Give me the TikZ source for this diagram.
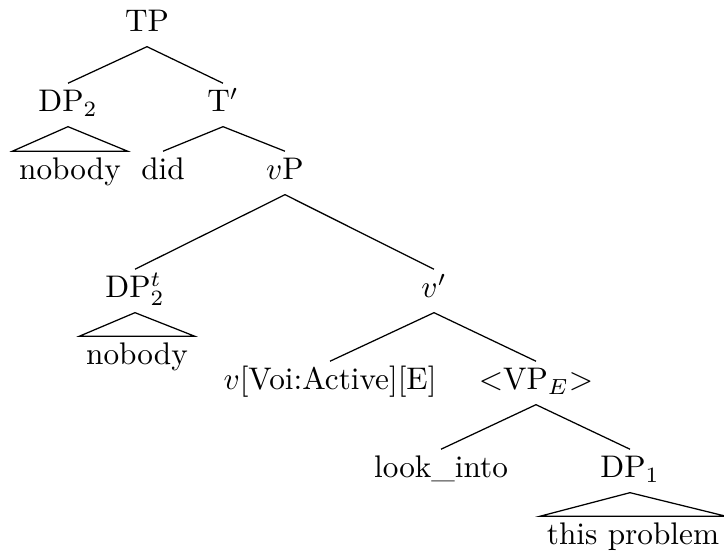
\documentclass[tikz,border=0pt]{standalone}
\usepackage{amsmath}
\usepackage{tikz}

% a branch from mother to daughter, and a roof over a daughter
\newcommand{\branch}[2]{\draw ([yshift=-3pt]#1.south) -- ([yshift=2pt]#2.north);}
\newcommand{\roof}[2]{\draw ([yshift=-3pt]#1.south) -- ([yshift=2pt]#2.north west) -- ([yshift=2pt]#2.north east) -- cycle;}

\begin{document}
\begin{tikzpicture}[x=0.32pt,y=-0.32pt,cat/.style={anchor=base,inner xsep=2pt,inner ysep=0pt,text height=7pt,text depth=1.5pt}]
        \useasboundingbox (0,0) rectangle (724,560);
        \node[cat] (tp) at (147,32) {TP};
        \node[cat] (dpa) at (68,112) {DP$_2$};
        \node[cat] (tbar) at (223,112) {T$'$};
        \node[cat] (nobodya) at (70,180) {nobody};
        \node[cat] (did) at (163,180) {did};
        \node[cat] (vp) at (285,180) {$v$P};
        \node[cat] (dpt) at (135,298) {DP$^t_2$};
        \node[cat] (vbar) at (434,298) {$v'$};
        \node[cat] (nobodyb) at (137,365) {nobody};
        \node[cat] (vhead) at (330,390) {$v$[Voi:Active][E]};
        \node[cat] (vpe) at (536,390) {$<$VP$_E$$>$};
        \node[cat] (look) at (441,478) {look\_into};
        \node[cat] (dpb) at (630,478) {DP$_1$};
        \node[cat] (prob) at (633,545) {this problem};

        \branch{tp}{dpa}
        \branch{tp}{tbar}
        \roof{dpa}{nobodya}
        \branch{tbar}{did}
        \branch{tbar}{vp}
        \branch{vp}{dpt}
        \branch{vp}{vbar}
        \roof{dpt}{nobodyb}
        \branch{vbar}{vhead}
        \branch{vbar}{vpe}
        \branch{vpe}{look}
        \branch{vpe}{dpb}
        \roof{dpb}{prob}
    \end{tikzpicture}
\end{document}
